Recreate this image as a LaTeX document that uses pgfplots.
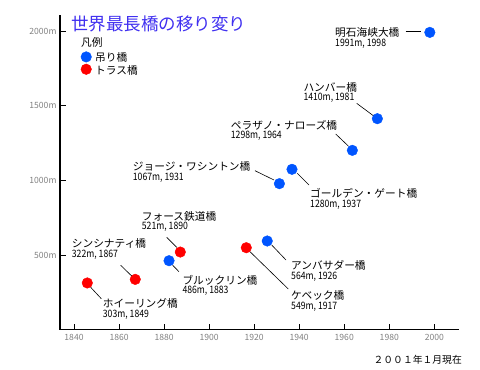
\documentclass[border=0pt]{standalone}
\usepackage{fontspec}
\setmainfont{Noto Sans CJK JP}
\newfontfamily\numfont{Noto Sans CJK JP}[FakeStretch=0.85]
\usepackage{pgfplots}
\pgfplotsset{compat=1.18}
\definecolor{sblue}{RGB}{0,85,255}
\definecolor{tred}{RGB}{255,0,0}
\definecolor{ttl}{RGB}{64,48,240}
\definecolor{tickgray}{RGB}{128,128,128}
\newcommand{\lab}{\fontsize{10.7}{11}\selectfont}
\newcommand{\num}{\numfont\fontsize{10.2}{10}\selectfont}
\begin{document}
\begin{tikzpicture}
\path[use as bounding box] (0pt,0pt) rectangle (480pt,370pt);
\begin{axis}[
  at={(60pt,40.3pt)}, anchor=south west,
  scale only axis, width=399pt, height=314.7pt,
  xmin=1833.78, xmax=2010.96, ymin=0, ymax=2107.4,
  axis x line=bottom, axis y line=left,
  axis line style={-, line width=1.2pt, black},
  xtick={1840,1860,1880,1900,1920,1940,1960,1980,2000},
  xticklabels={1840,1860,1880,1900,1920,1940,1960,1980,2000},
  ytick={500,1000,1500,2000},
  yticklabels={500m,1000m,1500m,2000m},
  tick align=inside, major tick length=6pt,
  tick style={black, line width=1pt},
  ticklabel style={font=\fontsize{8.6}{9}\selectfont, text=tickgray},
  xticklabel style={yshift=-1.5pt},
  clip=false,
  legend style={at={(0.0519,0.8843)}, anchor=north west, draw=none, fill=none,
    inner sep=0pt, row sep=0.6pt, column sep=3.7pt, nodes={inner sep=0pt}, font=\lab},
  legend cell align=left,
  legend image code/.code={\draw[#1] plot coordinates {(0pt,1.2pt)};},
]
\addplot[only marks, mark=*, mark size=5.3pt, color=sblue] coordinates {
 (1998,1991) (1974.7,1413) (1963.6,1201) (1936.8,1074) (1931.2,978) (1925.8,594) (1882.2,462)
};
\addlegendentry{吊り橋}
\addplot[only marks, mark=*, mark size=5.3pt, color=tred] coordinates {
 (1887.2,520) (1916.5,549) (1867.2,337) (1845.9,313)
};
\addlegendentry{トラス橋}
\end{axis}
\begin{scope}[x=1pt,y=-1pt,yshift=370pt]
\node[anchor=west, inner sep=0pt, font=\fontsize{17.5}{18}\selectfont, text=ttl] at (71,24) {世界最長橋の移り変り};
\node[anchor=west, inner sep=0pt, font=\lab] at (81,42.5) {凡例};
\newcommand{\bl}[5]{%
  \node[anchor=west, inner sep=0pt, font=\lab] at (#1,#2) {#4};
  \node[anchor=west, inner sep=0pt, font=\num] at (#1,#3) {#5};}
\bl{335}{32.5}{44}{明石海峡大橋}{1991m, 1998}
\bl{303.3}{87}{98}{ハンバー橋}{1410m, 1981}
\bl{230.7}{125}{136}{ペラザノ・ナローズ橋}{1298m, 1964}
\bl{132.7}{166.7}{177.7}{ジョージ・ワシントン橋}{1067m, 1931}
\bl{310}{193.7}{204.7}{ゴールデン・ゲート橋}{1280m, 1937}
\bl{141.7}{216}{227}{フォース鉄道橋}{521m, 1890}
\bl{71.7}{243.7}{254.7}{シンシナティ橋}{322m, 1867}
\bl{182.3}{280}{291}{ブルックリン橋}{486m, 1883}
\bl{102.7}{303}{315}{ホイーリング橋}{303m, 1849}
\bl{291}{265.7}{276.7}{アンバサダー橋}{564m, 1926}
\bl{291}{295.3}{306.3}{ケベック橋}{549m, 1917}
\begin{scope}[line width=0.6pt]
\draw (405.7,31.7) -- (421,31.7);
\draw (356.7,103.3) -- (373.3,115.7);
\draw (335.7,134) -- (348.3,146);
\draw (297.3,173.3) -- (309,185);
\draw (255,170.7) -- (274,180);
\draw (166.7,237.3) -- (176.7,247.3);
\draw (172.7,265.3) -- (179,271.7);
\draw (120.7,265.3) -- (131.7,276);
\draw (90.7,287.3) -- (101.3,298.7);
\draw (250,251.7) -- (288.3,289);
\draw (271.7,245) -- (286,260);
\end{scope}
\node[anchor=east, inner sep=0pt, font=\fontsize{9.8}{10}\selectfont] at (462,360) {２００１年１月現在};
\end{scope}
\end{tikzpicture}
\end{document}
